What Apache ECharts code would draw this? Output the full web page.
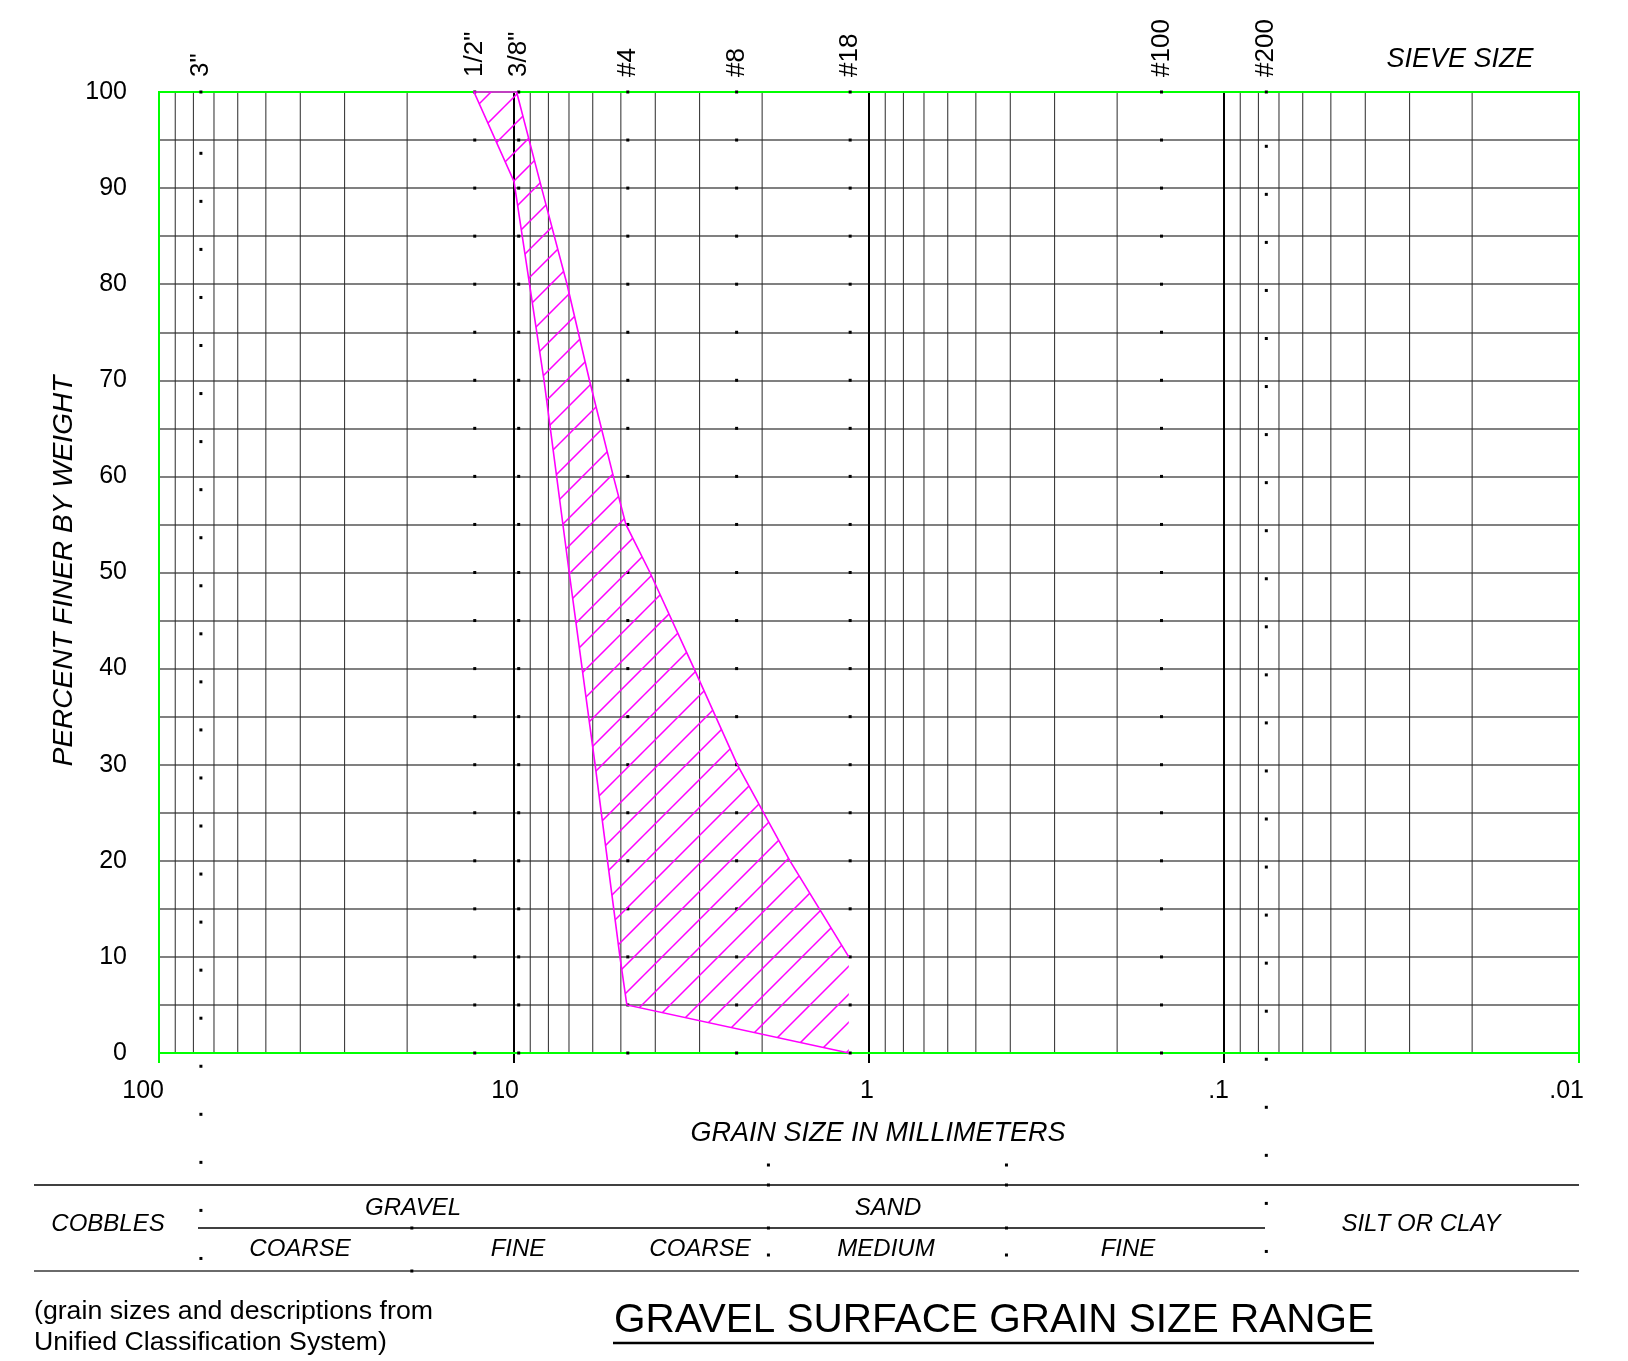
<!DOCTYPE html>
<html>
<head>
<meta charset="utf-8">
<script src="https://cdn.jsdelivr.net/npm/echarts@6.0.0/dist/echarts.min.js"></script>
<style>
html,body{margin:0;padding:0;background:#fff;}
#c{width:1628px;height:1361px;}
</style>
</head>
<body>
<div id="c"></div>
<script>
// ---------------- DATA ----------------
// x axis (grain size, mm) decade ticks and their labels
const xTickValues = [100, 10, 1, 0.1, 0.01];
const xTickLabels = ['100', '10', '1', '.1', '.01'];
// y axis (percent finer)
const yMin = 0, yMax = 100, yStep = 10;
// sieve sizes shown along the top (mm, as drawn)
const sieveNames = ['3"', '1/2"', '3/8"', '#4', '#8', '#18', '#100', '#200'];
const sieveSizesMM = [76.2, 12.9, 9.7, 4.78, 2.36, 1.13, 0.15, 0.076];
// coarse-side boundary of the gravel band (left edge)
const coarseMM  = [12.96, 10.0, 8.23, 6.99, 5.91, 5.03, 4.81, 1.14];
const coarsePct = [100, 90.7, 70, 50, 30, 10, 5, 0];
// fine-side boundary of the gravel band (right edge)
const fineMM  = [9.83, 8.36, 7.09, 6.13, 5.25, 4.84, 4.14, 3.11, 2.35, 1.67, 1.14];
const finePct = [100, 90, 80, 70, 60, 55, 50, 40, 30, 20, 10];
// classification boundaries used in the table (mm, as drawn)
const classBoundsMM = [19.4, 1.92, 0.41];
// log grid: minor multipliers per decade
const minorMult = [2, 3, 4, 5, 6, 7, 8, 9];
const decadeStarts = [0.01, 0.1, 1, 10];
const majorGridMM = [10, 1, 0.1];

// ---------------- BUILD ----------------
const FONT = '"Liberation Sans", Arial, Helvetica, sans-serif';
const minorGridMM = [];
decadeStarts.forEach(d => minorMult.forEach(m => minorGridMM.push(+(d * m).toPrecision(6))));

function makeHatch() {
  const c = document.createElement('canvas');
  c.width = 28; c.height = 28;
  const g = c.getContext('2d');
  g.strokeStyle = '#ff00ff';
  g.lineWidth = 1.5;
  g.beginPath();
  [-5, 23, 51].forEach(s => { g.moveTo(s + 3, -3); g.lineTo(-3, s + 3); });
  g.stroke();
  return c;
}
const hatch = makeHatch();

const chart = echarts.init(document.getElementById('c'), null, {renderer: 'canvas'});

function vline(api, v, stroke, w) {
  const a = api.coord([v, yMin]), b = api.coord([v, yMax]);
  return {type: 'line', shape: {x1: a[0], y1: a[1], x2: b[0], y2: b[1]}, style: {stroke: stroke, lineWidth: w}};
}

const txt = (x, y, text, font, align, extra) => Object.assign({
  type: 'text', x: x, y: y, silent: true,
  style: {text: text, font: font, fill: '#000', align: align || 'center', textAlign: align || 'center',
          verticalAlign: 'middle', textVerticalAlign: 'middle'}
}, extra || {});
const hline = (x1, y, x2, color, w) => ({type: 'line', silent: true,
  shape: {x1: x1, y1: y, x2: x2, y2: y}, style: {stroke: color, lineWidth: w}});

const option = {
  animation: false,
  backgroundColor: '#fff',
  grid: {left: 159, right: 49, top: 92, bottom: 308, containLabel: false, outerBoundsMode: 'none'},
  xAxis: {
    type: 'log', logBase: 10, min: 0.01, max: 100, inverse: true,
    axisLine: {show: false},
    axisTick: {show: true, length: 10, lineStyle: {color: '#000', width: 2}},
    splitLine: {show: false},
    axisLabel: {
      show: true, fontSize: 25, fontFamily: FONT, color: '#000', margin: 26,
      align: 'right', padding: [0, -5, 0, 0], showMinLabel: true, showMaxLabel: true, hideOverlap: false,
      formatter: function (v) {
        const i = xTickValues.findIndex(t => Math.abs(Math.log10(t) - Math.log10(v)) < 1e-6);
        return i >= 0 ? xTickLabels[i] : '';
      }
    }
  },
  yAxis: {
    type: 'value', min: yMin, max: yMax, interval: yStep,
    axisLine: {show: false}, axisTick: {show: false},
    axisLabel: {fontSize: 25, fontFamily: FONT, color: '#000', margin: 32},
    splitLine: {show: true, lineStyle: {color: '#808080', width: 2}},
    minorTick: {show: false, splitNumber: 2},
    minorSplitLine: {show: true, lineStyle: {color: '#808080', width: 2}}
  },
  series: [
    { // minor vertical grid
      type: 'custom', silent: true, clip: false, z: 1,
      data: minorGridMM.map(v => [v, yMin]),
      renderItem: (p, api) => vline(api, api.value(0), '#2a2a2a', 1)
    },
    { // decade vertical grid
      type: 'custom', silent: true, clip: false, z: 1,
      data: majorGridMM.map(v => [v, yMin]),
      renderItem: (p, api) => vline(api, api.value(0), '#000', 2)
    },
    { // green frame
      type: 'custom', silent: true, clip: false, z: 2,
      data: [[1, 50]],
      renderItem: (p, api) => {
        const tl = api.coord([xTickValues[0], yMax]);
        const br = api.coord([xTickValues[xTickValues.length - 1], yMin]);
        return {type: 'group', children: [
          {type: 'rect', shape: {x: tl[0], y: tl[1], width: br[0] - tl[0], height: br[1] - tl[1]},
           style: {fill: 'none', stroke: '#00ff00', lineWidth: 2}},
          {type: 'line', shape: {x1: tl[0], y1: br[1], x2: tl[0], y2: br[1] + 10}, style: {stroke: '#00ff00', lineWidth: 2}},
          {type: 'line', shape: {x1: br[0], y1: br[1], x2: br[0], y2: br[1] + 10}, style: {stroke: '#00ff00', lineWidth: 2}}
        ]};
      }
    },
    { // sieve dots
      type: 'custom', silent: true, clip: false, z: 3,
      data: sieveSizesMM.map((v, i) => [v, yMax, i]),
      renderItem: (p, api) => {
        const v = api.value(0), idx = api.value(2);
        const top = api.coord([v, yMax]), bot = api.coord([v, yMin]);
        const step = (bot[1] - top[1]) / 20;
        const ch = [];
        const dot = (x, y) => ch.push({type: 'rect', shape: {x: x - 1.5, y: y - 1.5, width: 3, height: 3}, style: {fill: '#000'}});
        dot(top[0], top[1]);
        if (sieveNames[idx] === '3"' || sieveNames[idx] === '#200') {
          const phase = sieveNames[idx] === '3"' ? 1.276 : 1.13;
          for (let y = top[1] + phase * step; y < 1275; y += step) dot(top[0], y);
        } else {
          for (let k = 1; k <= 20; k++) dot(top[0], top[1] + k * step);
        }
        return {type: 'group', children: ch};
      }
    },
    { // table boundary dots
      type: 'custom', silent: true, clip: false, z: 3,
      data: classBoundsMM.map((v, i) => [v, yMin, i]),
      renderItem: (p, api) => {
        const x = api.coord([api.value(0), yMin])[0];
        const ys = api.value(2) === 0 ? [1228, 1271] : [1165, 1185, 1228, 1255];
        return {type: 'group', children: ys.map(y => ({type: 'rect',
          shape: {x: x - 1.5, y: y - 1.5, width: 3, height: 3}, style: {fill: '#000'}}))};
      }
    },
    { // hatched band + outline
      type: 'custom', silent: true, clip: false, z: 4,
      data: [[fineMM[0], finePct[0]]],
      renderItem: (p, api) => {
        const poly = [];
        fineMM.forEach((m, i) => poly.push(api.coord([m, finePct[i]])));
        for (let i = coarseMM.length - 1; i >= 0; i--) poly.push(api.coord([coarseMM[i], coarsePct[i]]));
        const outline = [];
        for (let i = fineMM.length - 1; i >= 0; i--) outline.push(api.coord([fineMM[i], finePct[i]]));
        coarseMM.forEach((m, i) => outline.push(api.coord([m, coarsePct[i]])));
        return {type: 'group', children: [
          {type: 'polygon', shape: {points: poly}, style: {fill: {image: hatch, repeat: 'repeat'}, stroke: null}},
          {type: 'polyline', shape: {points: outline}, style: {fill: null, stroke: '#ff00ff', lineWidth: 1.6}}
        ]};
      }
    },
    { // sieve labels
      type: 'custom', silent: true, clip: false, z: 5,
      data: sieveSizesMM.map((v, i) => [v, yMax, i]),
      renderItem: (p, api) => {
        const pt = api.coord([api.value(0), yMax]);
        return {type: 'text', x: pt[0], y: pt[1] - 15, rotation: Math.PI / 2,
          style: {text: sieveNames[api.value(2)], font: '26px ' + FONT, fill: '#000',
                  align: 'left', textAlign: 'left', verticalAlign: 'middle', textVerticalAlign: 'middle'}};
      }
    }
  ],
  graphic: [
    txt(64, 571, 'PERCENT FINER BY WEIGHT', 'italic 28px ' + FONT, 'center', {rotation: Math.PI / 2}),
    txt(1460, 59, 'SIEVE SIZE', 'italic 27px ' + FONT),
    txt(878, 1133, 'GRAIN SIZE IN MILLIMETERS', 'italic 27px ' + FONT),
    hline(34, 1185, 1579, '#000', 1.5),
    hline(198, 1228, 1265, '#000', 1.5),
    hline(34, 1271, 1579, '#6a6a6a', 2),
    txt(108, 1224, 'COBBLES', 'italic 24px ' + FONT),
    txt(413, 1208, 'GRAVEL', 'italic 24px ' + FONT),
    txt(888, 1208, 'SAND', 'italic 24px ' + FONT),
    txt(1421, 1224, 'SILT OR CLAY', 'italic 24px ' + FONT),
    txt(300, 1249, 'COARSE', 'italic 24px ' + FONT),
    txt(518, 1249, 'FINE', 'italic 24px ' + FONT),
    txt(700, 1249, 'COARSE', 'italic 24px ' + FONT),
    txt(886, 1249, 'MEDIUM', 'italic 24px ' + FONT),
    txt(1128, 1249, 'FINE', 'italic 24px ' + FONT),
    txt(34, 1312, '(grain sizes and descriptions from', '26.7px ' + FONT, 'left'),
    txt(34, 1343, 'Unified Classification System)', '26.7px ' + FONT, 'left'),
    txt(994, 1321, 'GRAVEL SURFACE GRAIN SIZE RANGE', '40.5px ' + FONT),
    hline(613, 1343, 1374, '#000', 2.5)
  ]
};
chart.setOption(option);
</script>
</body>
</html>
